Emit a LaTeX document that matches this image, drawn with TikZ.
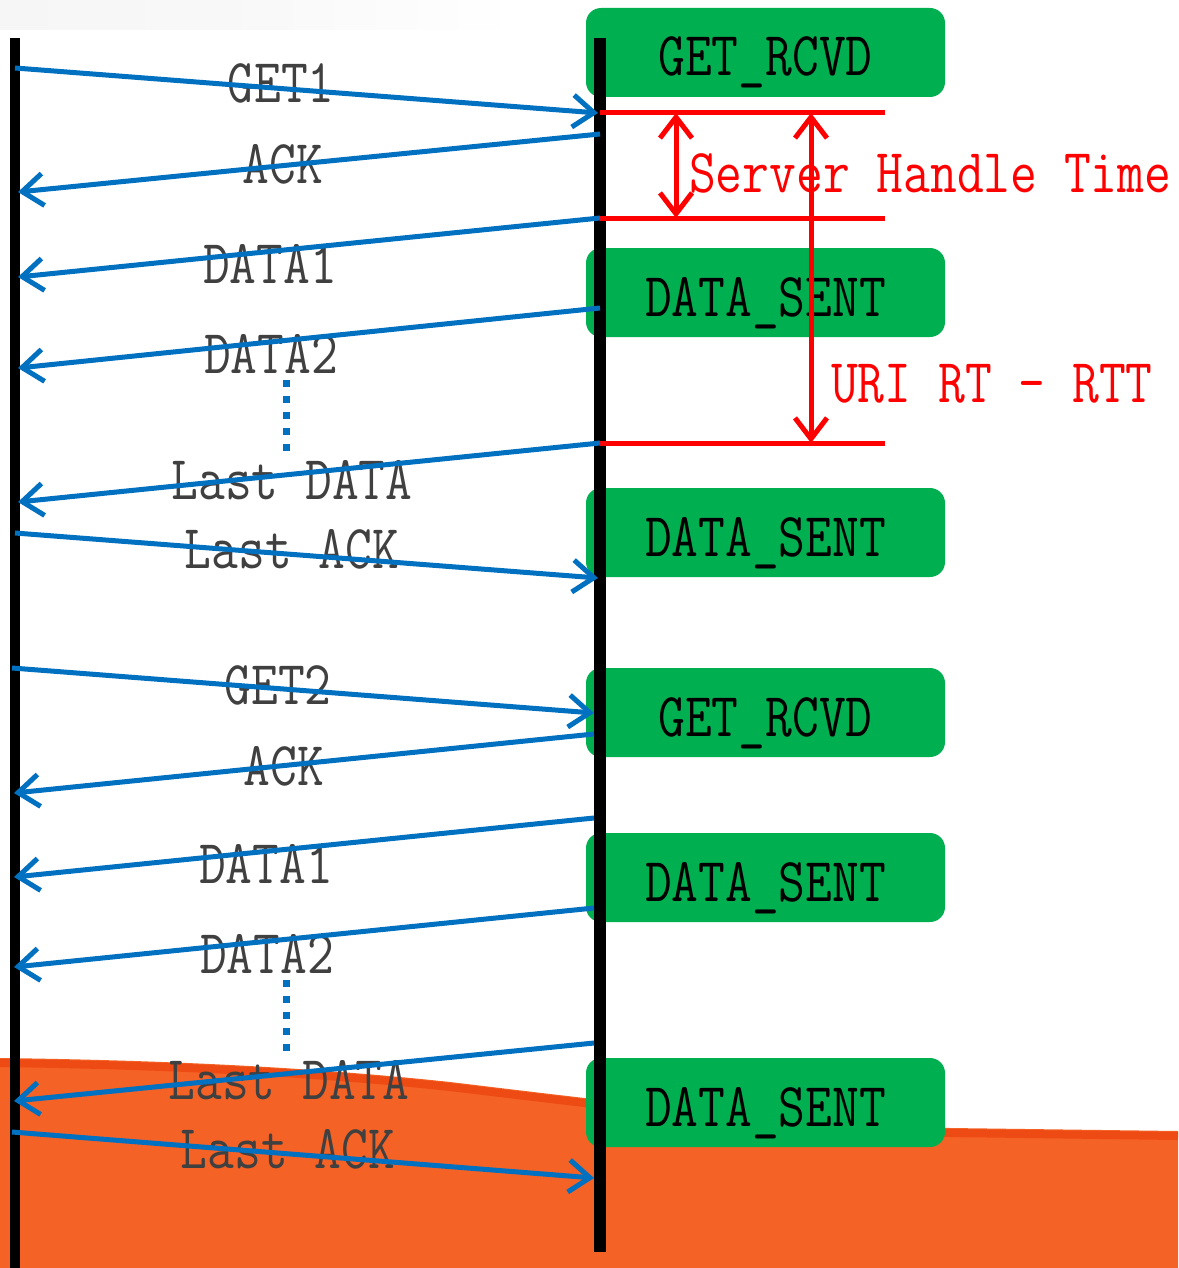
\documentclass[tikz,border=0pt]{standalone}
\usepackage{fontspec}
\usepackage{graphicx}
\usetikzlibrary{arrows.meta}

\definecolor{msgblue}{HTML}{0070C0}
\definecolor{stategreen}{HTML}{00B050}
\definecolor{labelgray}{HTML}{404040}
\definecolor{floororange}{HTML}{F56226}
\definecolor{flooredge}{HTML}{EE4A14}
\definecolor{hazegray}{HTML}{F6F6F6}

% tall, narrow typewriter lettering
\newcommand\stretchtxt[1]{\scalebox{1}[1.2]{#1}}

\tikzset{
  timeline/.style={line width=#1, black},
  msgarrow/.style={msgblue, line width=5pt, -{Straight Barb[length=21pt,width=32pt]}},
  dotgap/.style={msgblue, line width=7pt, dash pattern=on 7pt off 9pt},
  statebox/.style={fill=stategreen, rounded corners=15pt, minimum width=359pt,
                   minimum height=89pt, inner sep=0pt},
  statetext/.style={anchor=base, inner sep=0pt, text=black,
                    font=\fontsize{52}{60}\selectfont\ttfamily},
  msglabel/.style={anchor=base, inner sep=0pt, text=labelgray,
                   font=\fontsize{52}{60}\selectfont\ttfamily},
  timelabel/.style={anchor=base west, inner sep=0pt, text=red,
                    font=\fontsize{52}{60}\selectfont\ttfamily},
  marker/.style={red, line width=5pt},
  span/.style={red, line width=5pt, {Straight Barb[length=21pt,width=32pt]}-{Straight Barb[length=21pt,width=32pt]}}
}

\begin{document}
\begin{tikzpicture}[x=1pt,y=-1pt]
% canvas
\fill[white] (0,0) rectangle (1178,1268);
\useasboundingbox (0,0) rectangle (1178,1268);
\shade[left color=hazegray, right color=white, middle color=hazegray!70!white]
  (0,0) rectangle (520,30);

% orange floor at the bottom
\fill[floororange] (0,1058) .. controls (150,1060) and (300,1066) .. (450,1082)
  .. controls (600,1100) and (800,1125) .. (950,1128) -- (1178,1131)
  -- (1178,1268) -- (0,1268) -- cycle;
\draw[flooredge, line width=8pt] (0,1063) .. controls (150,1065) and (300,1071) .. (450,1087)
  .. controls (600,1105) and (800,1130) .. (950,1133) -- (1178,1136);

% server state boxes
\node[statebox] (b1) at (765.5,52.5) {};
\node[statebox] (b2) at (765.5,292.5) {};
\node[statebox] (b3) at (765.5,532.5) {};
\node[statebox] (b4) at (765.5,712.5) {};
\node[statebox] (b5) at (765.5,877.5) {};
\node[statebox] (b6) at (765.5,1102.5) {};
\node[statetext] (s1) at (765.5,76) {\stretchtxt{GET\_RCVD}};
\node[statetext] (s2) at (765.5,316) {\stretchtxt{DATA\_SENT}};
\node[statetext] (s3) at (765.5,556) {\stretchtxt{DATA\_SENT}};
\node[statetext] (s4) at (765.5,736) {\stretchtxt{GET\_RCVD}};
\node[statetext] (s5) at (765.5,901) {\stretchtxt{DATA\_SENT}};
\node[statetext] (s6) at (765.5,1126) {\stretchtxt{DATA\_SENT}};

% lifelines
\coordinate (ltop) at (15,38);
\coordinate (lbot) at (15,1268);
\coordinate (mtop) at (600,38);
\coordinate (mbot) at (600,1252);
\draw[timeline=10pt] (ltop) -- (lbot);
\draw[timeline=12pt] (mtop) -- (mbot);

% timing markers
\coordinate (r1a) at (600,113); \coordinate (r1b) at (885,113);
\coordinate (r2a) at (600,218); \coordinate (r2b) at (885,218);
\coordinate (r3a) at (600,443); \coordinate (r3b) at (885,443);
\draw[marker] (r1a) -- (r1b);
\draw[marker] (r2a) -- (r2b);
\draw[marker] (r3a) -- (r3b);
\coordinate (h1) at (676,113); \coordinate (h2) at (676,218);
\coordinate (u1) at (811,113); \coordinate (u2) at (811,443);
\draw[span] (h1) -- (h2);
\draw[span] (u1) -- (u2);
\node[timelabel] (sht) at (689,193) {\stretchtxt{Server Handle Time}};
\node[timelabel] (urt) at (831,402) {\stretchtxt{URI RT - RTT}};

% message labels
\node[msglabel] (l1)  at (281,103)  {\stretchtxt{GET1}};
\node[msglabel] (l2)  at (283,183)  {\stretchtxt{ACK}};
\node[msglabel] (l3)  at (270,283)  {\stretchtxt{DATA1}};
\node[msglabel] (l4)  at (271,373)  {\stretchtxt{DATA2}};
\node[msglabel] (l5)  at (292,499)  {\stretchtxt{Last DATA}};
\node[msglabel] (l6)  at (292,568)  {\stretchtxt{Last ACK}};
\node[msglabel] (l7)  at (278,704)  {\stretchtxt{GET2}};
\node[msglabel] (l8)  at (284,785)  {\stretchtxt{ACK}};
\node[msglabel] (l9)  at (266,883)  {\stretchtxt{DATA1}};
\node[msglabel] (l10) at (267,973)  {\stretchtxt{DATA2}};
\node[msglabel] (l11) at (289,1099) {\stretchtxt{Last DATA}};
\node[msglabel] (l12) at (288,1168) {\stretchtxt{Last ACK}};

% first request
\coordinate (a1s) at (15,68);   \coordinate (a1e) at (598,113);
\coordinate (a2s) at (600,134); \coordinate (a2e) at (18,192);
\coordinate (a3s) at (600,218); \coordinate (a3e) at (18,277);
\coordinate (a4s) at (600,308); \coordinate (a4e) at (18,368);
\coordinate (a5s) at (600,443); \coordinate (a5e) at (18,502);
\coordinate (a6s) at (15,533);  \coordinate (a6e) at (598,578);
% second request
\coordinate (a7s) at (12,668);   \coordinate (a7e) at (594,713);
\coordinate (a8s) at (594,734);  \coordinate (a8e) at (14,793);
\coordinate (a9s) at (594,818);  \coordinate (a9e) at (14,877);
\coordinate (a10s) at (594,908); \coordinate (a10e) at (14,967);
\coordinate (a11s) at (594,1043); \coordinate (a11e) at (14,1101);
\coordinate (a12s) at (12,1132); \coordinate (a12e) at (594,1178);

\foreach \i in {1,...,12} {
  \draw[msgarrow] (a\i s) -- (a\i e);
}

% elided data segments
\coordinate (d1a) at (286,380); \coordinate (d1b) at (286,456);
\coordinate (d2a) at (286,980); \coordinate (d2b) at (286,1056);
\draw[dotgap] (d1a) -- (d1b);
\draw[dotgap] (d2a) -- (d2b);
\end{tikzpicture}
\end{document}
